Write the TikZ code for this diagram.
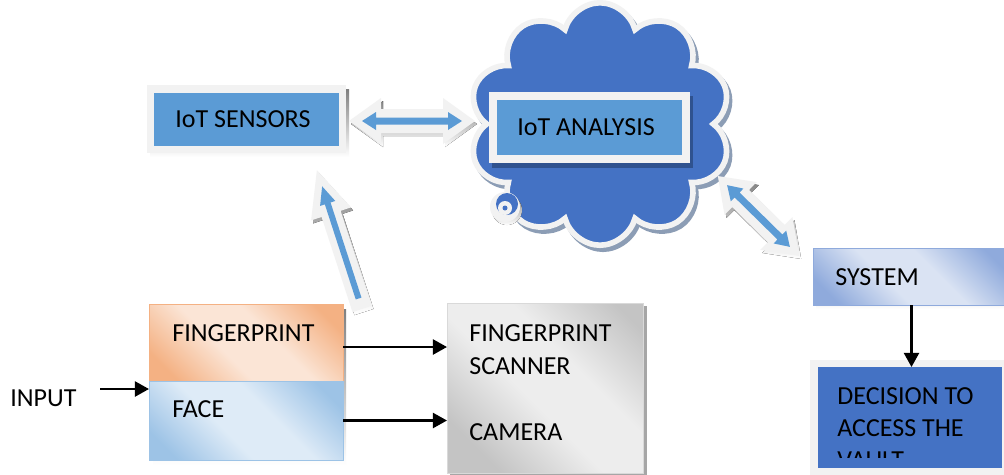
\documentclass[tikz,border=0pt]{standalone}
\usepackage{fontspec}
\setmainfont{Carlito}
\usetikzlibrary{arrows.meta,shapes.symbols,fit}
\definecolor{boxblue}{HTML}{5B9BD5}
\definecolor{cloudblue}{HTML}{4472C4}
\definecolor{deepblue}{HTML}{2F528F}
\definecolor{framegrey}{HTML}{F2F2F2}
\definecolor{shade}{HTML}{8C9DB5}
\definecolor{fpdark}{HTML}{F4B183}
\definecolor{fplight}{HTML}{FBE5D6}
\definecolor{fcdark}{HTML}{9DC3E6}
\definecolor{fclight}{HTML}{DEEBF7}
\definecolor{sysdark}{HTML}{8FAADC}
\definecolor{syslight}{HTML}{DAE3F3}
\definecolor{scdark}{HTML}{C4C4C4}
\definecolor{sclight}{HTML}{EDEDED}
\pgfdeclarehorizontalshading{peach}{100bp}{color(0bp)=(fpdark);color(22bp)=(fpdark);color(42bp)=(fplight);color(58bp)=(fplight);color(78bp)=(fpdark);color(100bp)=(fpdark)}
\pgfdeclarehorizontalshading{sky}{100bp}{color(0bp)=(fcdark);color(22bp)=(fcdark);color(42bp)=(fclight);color(58bp)=(fclight);color(78bp)=(fcdark);color(100bp)=(fcdark)}
\pgfdeclarehorizontalshading{pale}{100bp}{color(0bp)=(sysdark);color(22bp)=(sysdark);color(42bp)=(syslight);color(58bp)=(syslight);color(78bp)=(sysdark);color(100bp)=(sysdark)}
\pgfdeclarehorizontalshading{steel}{100bp}{color(0bp)=(scdark);color(25bp)=(scdark);color(45bp)=(sclight);color(60bp)=(sclight);color(80bp)=(scdark);color(100bp)=(scdark)}
\tikzset{
pics/twoway/.style 2 args={code={
\fill[shade,shift={(2,3)},rotate=#2](-#1,0)--(-#1+32,-23)--(-#1+32,-12)--(#1-32,-12)--(#1-32,-23)--(#1,0)--(#1-32,23)--(#1-32,12)--(-#1+32,12)--(-#1+32,23)--cycle;
\fill[framegrey,rotate=#2](-#1,0)--(-#1+32,-23)--(-#1+32,-12)--(#1-32,-12)--(#1-32,-23)--(#1,0)--(#1-32,23)--(#1-32,12)--(-#1+32,12)--(-#1+32,23)--cycle;
\fill[boxblue,rotate=#2](-#1+13,0)--(-#1+27,-9)--(-#1+27,-3.5)--(#1-27,-3.5)--(#1-27,-9)--(#1-13,0)--(#1-27,9)--(#1-27,3.5)--(-#1+27,3.5)--(-#1+27,9)--cycle;
}},
pics/oneway/.style 2 args={code={
\fill[shade,shift={(2,3)},rotate=#2](0,-10)--(#1-46,-10)--(#1-46,-21)--(#1,0)--(#1-46,21)--(#1-46,10)--(0,10)--cycle;
\fill[framegrey,rotate=#2](0,-10)--(#1-46,-10)--(#1-46,-21)--(#1,0)--(#1-46,21)--(#1-46,10)--(0,10)--cycle;
\fill[boxblue,rotate=#2](11,-3)--(#1-35,-3)--(#1-35,-8)--(#1-17,0)--(#1-35,8)--(#1-35,3)--(11,3)--cycle;
}}
}
\begin{document}
\begin{tikzpicture}[x=0.02cm,y=-0.02cm,
lbl/.style={inner sep=0pt,anchor=west,align=left,font=\fontsize{14.8}{18.4}\selectfont},
bx/.style={inner sep=0pt,outer sep=0pt},
arr/.style={line width=1.4pt,-{Triangle[length=8pt,width=8.5pt]}},
puffy/.style={cloud,cloud puffs=10,cloud puff arc=150,cloud ignores aspect,minimum width=5.25cm,minimum height=4.85cm,line width=3.2pt}]
\useasboundingbox(0,0)rectangle(1004,474);
\clip(0,0)rectangle(1004,474);
\fill[white](0,0)rectangle(1004,474);
\node[puffy,fill=shade,draw=shade]at(603,128){};
\node[puffy,fill=cloudblue,draw=framegrey](net)at(600,124){};
\fill[shade](507,210)circle[radius=15];
\fill[framegrey](505,207)circle[radius=15];
\fill[cloudblue](507,204)circle[radius=11];
\fill[framegrey](505,208)circle[radius=7];
\fill[cloudblue](505,208)circle[radius=2.5];
\fill[deepblue](492,96)rectangle(693,168);
\fill[framegrey](489,92)rectangle(690,163);
\node[bx,fill=boxblue,fit={(497,100)(682,155)}](anly){};
\node[lbl](anlyT)at(517,127){IoT ANALYSIS};
\fill[shade](150,89)rectangle(349,157);
\fill[framegrey](147,85)rectangle(346,153);
\node[bx,fill=boxblue,fit={(154,93)(339,146)}](sens){};
\node[lbl](sensT)at(175,119){IoT SENSORS};
\pic at(412,121){twoway={63}{0}};
\pic at(758.5,216){twoway={57}{-44.5}};
\pic at(362,309){oneway={146}{108}};
\fill[shade](153,309)rectangle(346,465);
\node[bx,shading=peach,shading angle=45,draw=fpdark,fit={(149,304)(343,381)}](fing){};
\node[bx,shading=sky,shading angle=45,draw=fcdark,fit={(149,381)(343,460)}](face){};
\node[lbl](fingT)at(172,333){FINGERPRINT};
\node[lbl](faceT)at(172,409){FACE};
\fill[black!35](450,306)rectangle(647,476);
\node[bx,shading=steel,shading angle=45,draw=black!15,fit={(447,303)(643,473)}](scan){};
\node[lbl](scanT)at(469,349.5){FINGERPRINT\\SCANNER};
\node[lbl](camT)at(469,432){CAMERA};
\node[lbl](inp)at(10,398){INPUT};
\coordinate(inarr)at(100,389);
\draw[arr](inarr)--(face.west|-inarr);
\draw[arr]([yshift=-0.09cm]fing.east)--([yshift=-0.09cm]scan.west|-fing.east);
\draw[arr](face.east)--(scan.west|-face.east);
\fill[shade](816,252)rectangle(1012,309);
\node[bx,shading=pale,shading angle=45,draw=sysdark,fit={(813,248)(1010,305)}](sys){};
\node[lbl](sysT)at(835,277){SYSTEM};
\fill[framegrey](810,360)rectangle(1010,480);
\node[bx,fill=cloudblue,fit={(818,367)(1002,468)}](dec){};
\begin{scope}
\clip(818,367)rectangle(1002,457);
\node[lbl,anchor=north west](decT)at(837,387){DECISION TO\\ACCESS THE\\VAULT};
\end{scope}
\draw[arr](sys.south)--(sys.south|-dec.north);
\end{tikzpicture}
\end{document}
